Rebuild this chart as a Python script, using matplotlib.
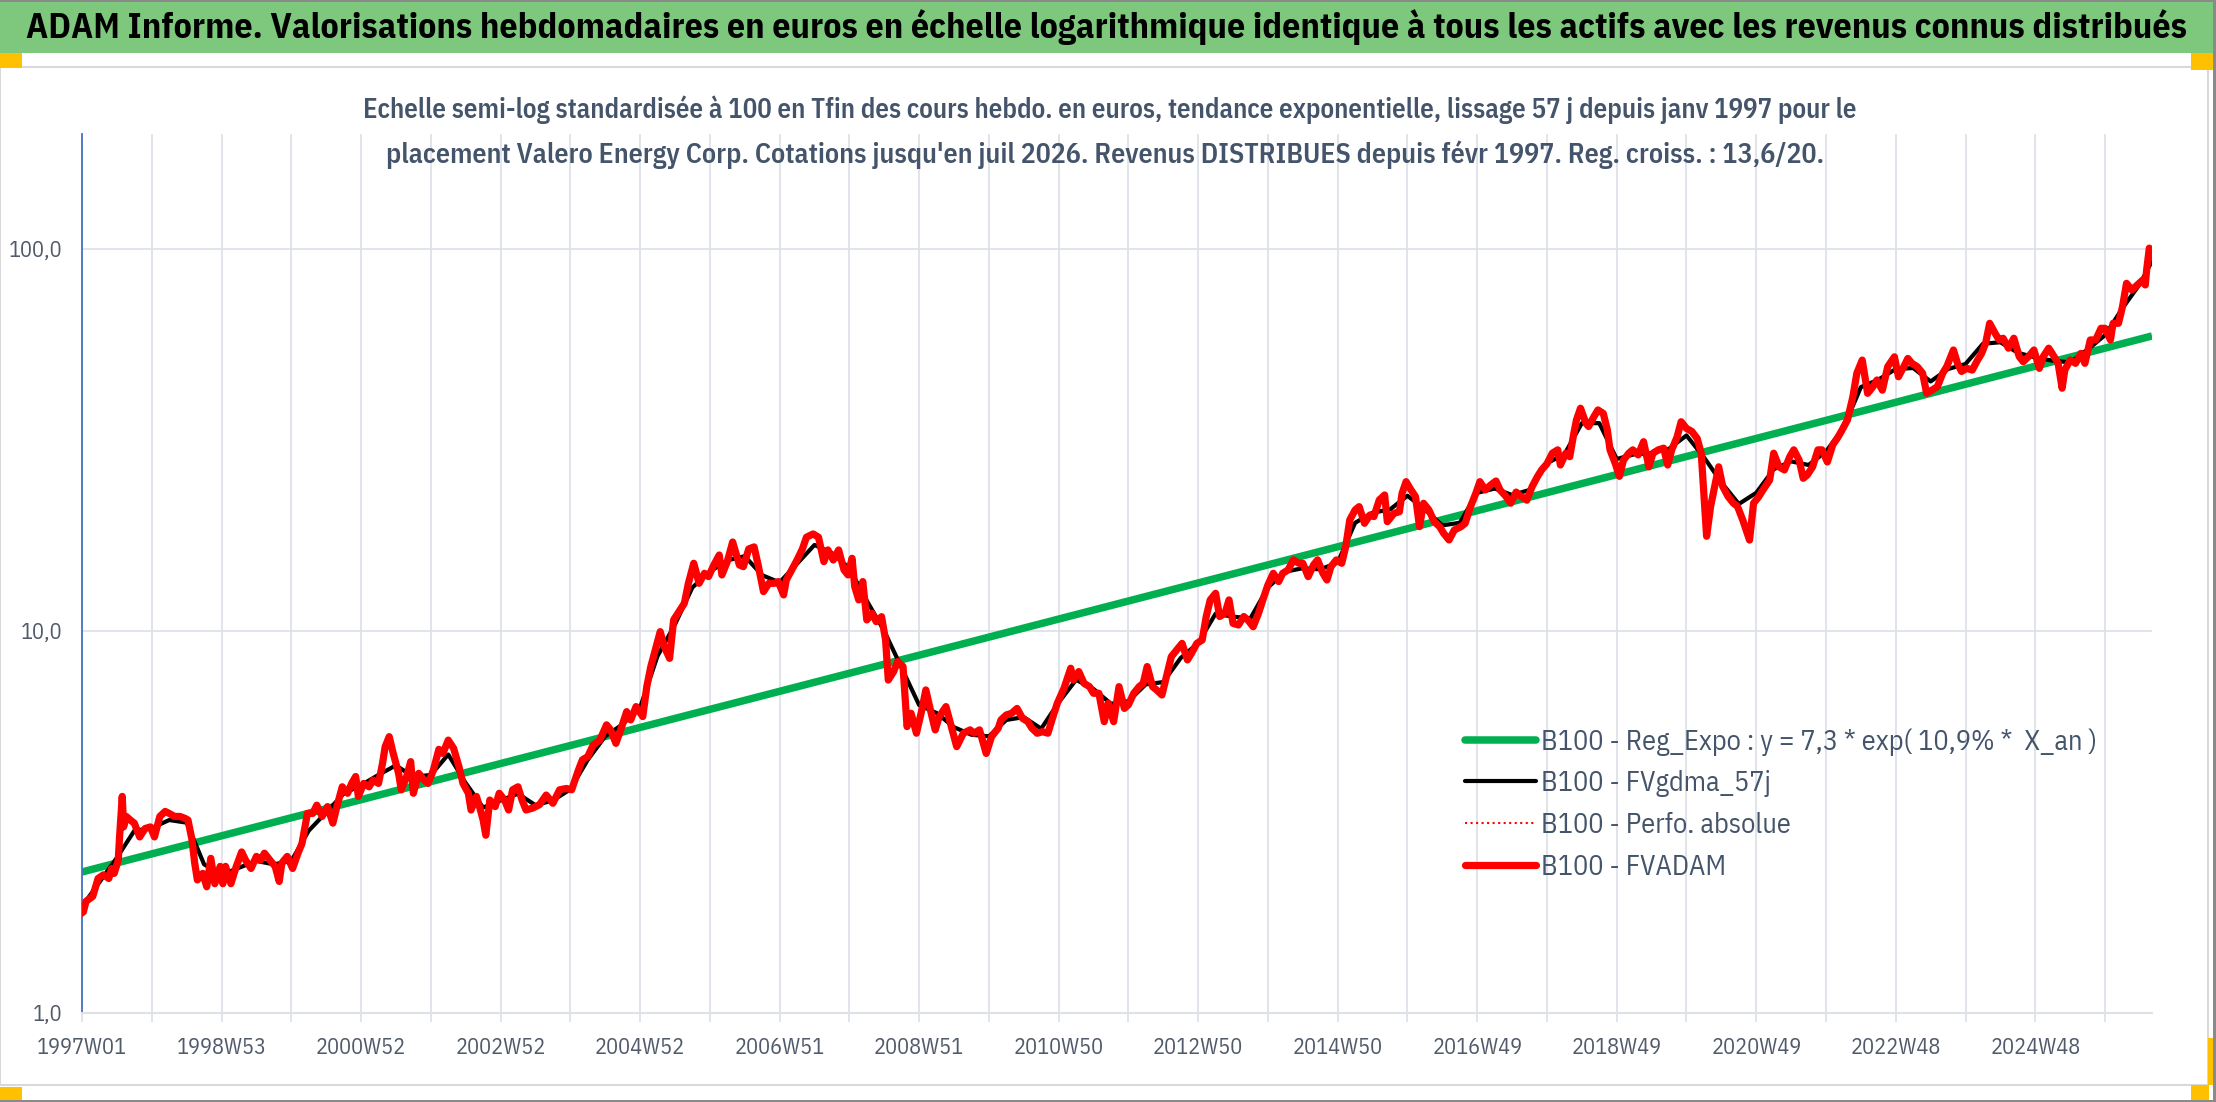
import matplotlib
matplotlib.use("Agg")
import matplotlib.pyplot as plt
from matplotlib.patches import Rectangle
from matplotlib.ticker import FixedLocator, NullLocator

# ---- data (week index from 1997W01, values base 100) ----
red_wk = [0, 1, 3, 8, 12, 16, 20, 22, 24, 27,
          28, 30, 31, 33, 36, 39, 43, 47, 51, 54,
          58, 62, 65, 69, 73, 77, 79, 82, 84, 86,
          90, 93, 96, 99, 103, 105, 107, 111, 115, 119,
          122, 126, 130, 133, 136, 141, 144, 147, 149, 153,
          157, 161, 164, 168, 172, 175, 179, 183, 187, 190,
          194, 198, 201, 204, 206, 210, 214, 217, 221, 224,
          226, 229, 232, 236, 238, 242, 245, 247, 251, 255,
          258, 262, 266, 269, 273, 277, 281, 284, 288, 290,
          294, 297, 299, 301, 304, 308, 311, 315, 318, 321, 325,
          328, 331, 336, 341, 346, 351, 356, 361, 365, 370,
          373, 377, 381, 386, 391, 394, 398, 402, 406, 409,
          413, 418, 421, 424, 428, 431, 434, 438, 441, 445,
          449, 452, 456, 460, 464, 467, 471, 475, 477, 481,
          485, 490, 493, 497, 501, 504, 508, 512, 516, 519,
          523, 525, 529, 533, 537, 540, 545, 549, 553, 556,
          560, 564, 568, 571, 574, 576, 579, 582, 585, 589,
          592, 596, 599, 601, 605, 608, 612, 615, 618, 622,
          626, 629, 633, 636, 639, 644, 648, 652, 657, 662,
          665, 669, 674, 678, 683,
          685, 689, 693, 697, 701, 705, 708, 712, 716, 720,
          723, 727, 732, 737, 739, 743, 747, 751, 754, 758,
          762, 765, 769, 773, 777, 780, 784, 788, 791, 794,
          798, 801, 805, 809, 812, 816, 820, 824, 827, 831,
          835, 838, 841, 845, 848, 852, 855, 858, 862, 866,
          869, 873, 877, 881, 884, 888, 892, 895, 899, 903,
          907, 910, 914, 918, 921, 925, 928, 931, 935, 939,
          942, 945, 949, 952, 956, 960, 963, 967, 971, 973,
          978, 982, 984, 987, 990, 994, 997, 1000, 1004, 1008,
          1012, 1015, 1019, 1023, 1028, 1031, 1035, 1039, 1042, 1046, 1050,
          1054, 1057, 1061, 1065, 1069, 1072, 1077, 1081, 1085, 1088,
          1092, 1096, 1100, 1102, 1106, 1109, 1112, 1114, 1117, 1121,
          1123, 1127, 1130, 1134, 1137, 1139, 1143, 1146, 1149, 1153,
          1156, 1160, 1164, 1168, 1171, 1175, 1179, 1182, 1185, 1189,
          1192, 1196, 1200, 1204, 1207, 1211, 1214, 1217, 1220, 1223,
          1227, 1231, 1234, 1238, 1243, 1246, 1250, 1253, 1258, 1261,
          1265, 1269, 1273, 1276, 1280, 1283, 1286, 1290, 1294, 1297,
          1301, 1305, 1309, 1312, 1316, 1320, 1323, 1327, 1331, 1335,
          1338, 1342, 1346, 1351, 1354, 1358, 1361, 1364, 1368, 1372,
          1375, 1379, 1383, 1387, 1390, 1395, 1398, 1401, 1405, 1409,
          1413, 1416, 1419, 1422, 1426, 1429,
          1432, 1436, 1440, 1444, 1447, 1451, 1455, 1459, 1462, 1466,
          1470, 1473, 1476, 1478, 1482, 1486, 1490, 1493, 1497, 1501,
          1505, 1508, 1512, 1514, 1518, 1521, 1524, 1528, 1532, 1536,
          1538, 1539, 1541, 1543]
red_val = [1.83, 1.84, 1.96, 2.02, 2.25, 2.30, 2.25, 2.39, 2.32, 2.51,
           2.89, 3.69, 3.07, 3.27, 3.20, 3.14, 2.89, 3.04, 3.07, 2.89,
           3.27, 3.37, 3.33, 3.27, 3.27, 3.23, 3.20, 2.84, 2.47, 2.23,
           2.32, 2.14, 2.54, 2.18, 2.42, 2.18, 2.42, 2.18, 2.42, 2.64,
           2.51, 2.39, 2.57, 2.51, 2.62, 2.49, 2.42, 2.21, 2.47, 2.57,
           2.39, 2.62, 2.78, 3.33, 3.33, 3.50, 3.27, 3.47, 3.14, 3.47,
           3.91, 3.76, 3.99, 4.16, 3.69, 3.99, 3.91, 4.07, 3.99, 4.50,
           4.98, 5.29, 4.78, 4.24, 3.84, 4.16, 4.55, 3.76, 4.24, 4.07,
           3.99, 4.33, 4.90, 4.78, 5.18, 4.93, 4.41, 3.99, 3.76, 3.40,
           3.69, 3.40, 3.20, 2.92, 3.61, 3.47, 3.76, 3.61, 3.40, 3.84, 3.91,
           3.61, 3.40, 3.44, 3.51, 3.72, 3.54, 3.84, 3.87, 3.84, 4.32,
           4.60, 4.69, 5.03, 5.18, 5.68, 5.51, 5.08, 5.57, 6.15, 5.85,
           6.34, 5.97, 7.15, 8.07, 9.10, 9.96, 9.10, 8.48, 10.69, 11.24,
           11.82, 13.33, 15.04, 13.33, 14.16, 13.88, 14.89, 15.81, 14.02, 15.19,
           17.1, 14.89, 14.74, 16.4, 16.6, 14.89, 12.68, 13.33, 13.33, 13.47,
           12.43, 13.6, 14.45, 15.34, 16.4, 17.6, 17.95, 17.6, 15.19, 16.3,
           15.34, 16.3, 14.45, 14.02, 15.5, 13.06, 12.06, 13.47, 10.69, 11.13,
           10.58, 10.9, 9.47, 7.44, 7.83, 8.32, 8.07, 5.62, 6.09, 5.40,
           6.21, 7.01, 6.09, 5.51, 5.97, 6.34, 5.62, 4.98, 5.40, 5.51,
           5.40, 5.51, 4.78, 5.29, 5.57,
           5.85, 6.03, 6.09, 6.27, 5.91, 5.79, 5.57, 5.40, 5.45, 5.40,
           5.85, 6.47, 7.08, 7.99, 7.44, 7.83, 7.29, 7.15, 6.87, 6.87,
           5.79, 6.47, 5.79, 7.15, 6.27, 6.41, 6.87, 7.15, 7.29, 8.07,
           7.15, 7.01, 6.80, 7.75, 8.57, 8.92, 9.28, 8.40, 8.74, 9.28,
           9.47, 10.91, 12.06, 12.55, 10.91, 11.13, 12.06, 10.47, 10.37, 10.91,
           10.69, 10.26, 11.13, 12.3, 13.2, 14.16, 13.47, 14.16, 14.45, 15.35,
           15.04, 15.04, 13.88, 14.89, 15.35, 14.16, 13.6, 14.74, 15.35, 15.04,
           16.63, 19.53, 20.74, 21.16, 19.14, 20.12, 19.93, 22.03, 22.7, 19.33,
           20.32, 20.53, 22.94, 24.6, 23.6, 22.48, 18.76, 21.59, 20.74, 19.33,
           18.76, 18.02, 17.31, 18.39, 18.76, 19.14, 21.16, 22.94, 24.6, 23.4, 24.1,
           24.7, 23.4, 22.6, 21.6, 23.1, 22.6, 22.0, 23.9, 25.4, 26.4,
           27.4, 29.2, 29.8, 27.2, 29.2, 28.6, 32.9, 35.7, 38.3, 35.0,
           34.3, 36.4, 37.9, 37.1, 33.6, 29.8, 27.4, 25.4, 28.0, 29.2,
           29.8, 28.9, 31.3, 26.9, 29.2, 29.8, 30.1, 27.2, 29.8, 32.2,
           35.3, 33.9, 33.3, 31.9, 29.2, 17.7, 21.2, 23.9, 26.9, 23.9,
           22.5, 21.6, 21.2, 19.5, 17.3, 21.6, 22.5, 23.4, 24.85, 29.2,
           26.9, 26.4, 28.6, 29.8, 28.0, 25.1, 25.6, 26.9, 29.8, 29.8,
           27.7, 30.7, 32.2, 33.6, 35.7, 41.0, 47.3, 51.2, 41.9, 43.6,
           45.4, 42.7, 49.2, 52.2, 46.3, 49.2, 51.7, 50.2, 49.2, 47.3,
           41.9, 42.7, 43.6, 47.3, 49.2, 54.4, 50.2, 47.8, 48.7, 48.2,
           51.2, 53.3, 56.7, 63.9, 60.2, 57.8,
           58.4, 55.0, 58.4, 52.3, 50.7, 52.3, 54.4, 48.7, 52.3, 55.0,
           52.3, 50.2, 43.2, 48.2, 51.2, 50.2, 53.3, 50.2, 57.8, 57.8,
           62.0, 62.0, 57.8, 63.9, 63.9, 70.6, 81.3, 78.1, 80.5, 82.9,
           80.5, 88.1, 100.5, 95.5]

black_wk = [0, 13, 26, 39, 52, 65, 78, 91, 104, 117,
            130, 143, 156, 169, 182, 195, 208, 221, 234, 247,
            260, 273, 286, 299, 312, 325, 338, 351, 364, 377,
            390, 403, 416, 429, 442, 455, 468, 481, 494, 507,
            520, 533, 546, 559, 572, 585, 598, 611, 624, 637,
            650, 663, 676, 689, 702, 715, 728, 741, 754, 767,
            780, 793, 806, 819, 832, 845, 858, 871, 884, 897,
            910, 923, 936, 949, 962, 975, 988, 1001, 1014, 1027,
            1040, 1053, 1066, 1079, 1092, 1105, 1118, 1131, 1144, 1157,
            1170, 1183, 1196, 1209, 1222, 1235, 1248, 1261, 1274, 1287,
            1300, 1313, 1326, 1339, 1352, 1365, 1378, 1391, 1404, 1417,
            1430, 1443, 1456, 1469, 1482, 1495, 1508, 1521, 1534, 1543]
black_val = [1.90, 2.20, 2.55, 3.00, 3.05, 3.20, 3.15, 2.45, 2.30, 2.40,
             2.50, 2.45, 2.50, 3.00, 3.35, 3.75, 3.95, 4.20, 4.45, 4.15,
             4.20, 4.75, 4.00, 3.45, 3.60, 3.75, 3.50, 3.60, 3.85, 4.60,
             5.30, 5.70, 6.30, 8.60, 10.4, 13.0, 14.3, 15.3, 15.7, 14.0,
             13.4, 15.0, 16.8, 16.0, 14.6, 12.0, 10.0, 8.00, 6.40, 6.10,
             5.60, 5.35, 5.30, 5.85, 5.95, 5.55, 6.50, 7.45, 7.05, 6.45,
             6.55, 7.25, 7.35, 8.50, 9.30, 11.1, 10.9, 10.8, 13.0, 14.3,
             14.6, 14.5, 15.1, 19.2, 20.4, 20.8, 22.6, 20.8, 18.9, 19.2,
             23.0, 23.6, 22.7, 23.4, 27.5, 29.0, 35.0, 35.0, 28.2, 29.0,
             29.2, 30.0, 32.5, 28.5, 24.5, 21.5, 23.0, 26.5, 27.8, 27.2,
             29.5, 34.0, 43.5, 45.5, 48.5, 48.8, 45.0, 48.5, 50.0, 56.5,
             57.0, 53.5, 52.0, 51.0, 50.5, 54.5, 59.5, 70.0, 81.0, 93.0]

reg_wk = [0, 1543]
reg_val = [2.34, 59.2]

tick_wk = [0, 52, 104, 156, 208, 260, 312, 364, 416, 468, 520, 572, 624, 676, 728,
           780, 832, 884, 936, 988, 1040, 1092, 1144, 1196, 1248, 1300, 1352, 1404, 1456, 1508]
tick_lab = ["1997W01", "", "1998W53", "", "2000W52", "", "2002W52", "", "2004W52", "",
            "2006W51", "", "2008W51", "", "2010W50", "", "2012W50", "", "2014W50", "",
            "2016W49", "", "2018W49", "", "2020W49", "", "2022W48", "", "2024W48", ""]

labels = ["B100 - Reg_Expo : y = 7,3 * exp( 10,9% *  X_an )",
          "B100 - FVgdma_57j",
          "B100 - Perfo. absolue",
          "B100 - FVADAM"]

title = ("ADAM Informe. Valorisations hebdomadaires en euros en échelle logarithmique "
         "identique à tous les actifs avec les revenus connus distribués")
sub1 = ("Echelle semi-log standardisée à 100 en Tfin des cours hebdo. en euros, tendance "
        "exponentielle, lissage 57 j depuis janv 1997 pour le")
sub2 = ("placement Valero Energy Corp. Cotations jusqu'en juil 2026. Revenus DISTRIBUES "
        "depuis févr 1997. Reg. croiss. : 13,6/20.")

# ---- figure ----
W, H = 2216, 1102
fam = ['IBM Plex Sans Condensed', 'Carlito', 'DejaVu Sans']
plt.rcParams['font.family'] = fam

fig = plt.figure(figsize=(W / 100, H / 100), dpi=100, facecolor='white')
r = fig.canvas.get_renderer()


def fx(px):
    return px / W


def fy(py):
    return 1 - py / H


def box(x0, y0, x1, y1, **kw):
    fig.add_artist(Rectangle((fx(x0), fy(y1)), fx(x1) - fx(x0), fy(y0) - fy(y1),
                             transform=fig.transFigure, **kw))


def size_for(s, wpx, weight='normal', base=20):
    # font size that gives the text s a width of wpx pixels
    t = fig.text(0, 0, s, fontsize=base, fontweight=weight)
    bw = t.get_window_extent(r).width
    t.remove()
    return base * wpx / bw


# banner + frame decorations
box(0, 0, 2213, 53, facecolor='#7DC87D', edgecolor='none')
box(0, 0, 2216, 2, facecolor='#8A8A8A', edgecolor='none')
box(0, 67, 2208, 1085, facecolor='none', edgecolor='#D9D9D9', linewidth=1.5)
box(2213, 0, 2216, 1102, facecolor='#8A8A8A', edgecolor='none')
box(0, 1100, 2216, 1102, facecolor='#8A8A8A', edgecolor='none')
for (a, b, c, d) in [(0, 53, 22, 68), (2191, 53, 2213, 70), (0, 1087, 22, 1100),
                     (2191, 1085, 2209, 1100), (2208, 1038, 2213, 1085)]:
    box(a, b, c, d, facecolor='#FFC000', edgecolor='none')

tick_fs = size_for("2024W48", 90)
leg_fs = size_for(labels[0], 554)

ax = fig.add_axes([fx(82), fy(1013), fx(2152) - fx(82), fy(134) - fy(1013)])
ax.set_yscale('log')
ax.set_xlim(0, 1543)
ax.set_ylim(1, 200)

ax.plot(reg_wk, reg_val, color='#00B050', linewidth=5.4, solid_capstyle='butt', zorder=2)
ax.plot(black_wk, black_val, color='black', linewidth=3, zorder=3)
ax.plot(red_wk, red_val, color='#FF0000', linewidth=1.2, linestyle=':', zorder=4)
ax.plot(red_wk, red_val, color='#FF0000', linewidth=5.2, solid_joinstyle='round', zorder=5)

grid_c = '#DEE2E8'
ax.yaxis.set_major_locator(FixedLocator([1, 10, 100]))
ax.yaxis.set_minor_locator(NullLocator())
ax.set_yticklabels(['1,0', '10,0', '100,0'])
ax.xaxis.set_major_locator(FixedLocator(tick_wk))
ax.set_xticklabels(tick_lab)
ax.grid(True, which='major', color=grid_c, linewidth=1.3)
ax.set_axisbelow(True)
ax.tick_params(axis='y', length=0, pad=14, labelsize=tick_fs, labelcolor='#505A6A')
ax.tick_params(axis='x', length=6.5, width=1.3, color=grid_c, direction='out', pad=11,
               labelsize=tick_fs, labelcolor='#505A6A')
for s in ['top', 'right']:
    ax.spines[s].set_visible(False)
ax.spines['left'].set_color('#4472C4')
ax.spines['left'].set_linewidth(1.3)
ax.spines['bottom'].set_color(grid_c)
ax.spines['bottom'].set_linewidth(1.5)

# legend (proxy handles share the plotted styles)
h = [plt.Line2D([], [], color='#00B050', linewidth=5.4, solid_capstyle='round'),
     plt.Line2D([], [], color='black', linewidth=3, solid_capstyle='round'),
     plt.Line2D([], [], color='#FF0000', linewidth=1.5, linestyle=':'),
     plt.Line2D([], [], color='#FF0000', linewidth=5.2, solid_capstyle='round')]
leg_px = leg_fs * 100 / 72
leg = fig.legend(h, labels, loc='upper left', bbox_to_anchor=(fx(1465), fy(728)),
                 frameon=False, fontsize=leg_fs, handlelength=71 / leg_px,
                 handletextpad=5 / leg_px, labelspacing=(50 - 1.25 * leg_px) / leg_px,
                 borderpad=0, borderaxespad=0)
for t in leg.get_texts():
    t.set_color('#44546A')

# titles, fitted to the reference widths
t0 = fig.text(fx(1106), fy(27), title, ha='center', va='center',
              fontsize=size_for(title, 2155, 'bold'), fontweight='bold', color='black')
t1 = fig.text(fx(1110), fy(110), sub1, ha='center', va='center',
              fontsize=size_for(sub1, 1489, 'semibold'), fontweight='semibold', color='#44546A')
t2 = fig.text(fx(1105), fy(155), sub2, ha='center', va='center',
              fontsize=size_for(sub2, 1437, 'semibold'), fontweight='semibold', color='#44546A')

fig.savefig('out.png', dpi=100, facecolor='white')
